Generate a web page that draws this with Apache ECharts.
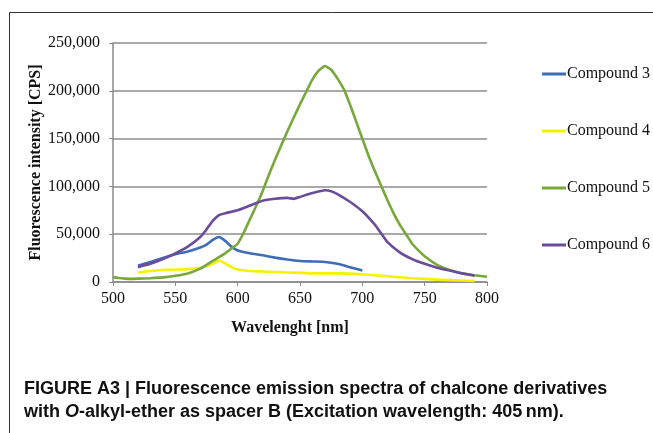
<!DOCTYPE html>
<html>
<head>
<meta charset="utf-8">
<script src="https://cdn.jsdelivr.net/npm/echarts@6/dist/echarts.min.js"></script>
<style>
body { margin: 0; background: #fff; }
#chart { width: 653px; height: 433px; }
</style>
</head>
<body>
<div id="chart"></div>
<script>
// Spectra (wavelength nm / intensity CPS)
var wl3 = [520, 530, 540, 550, 560, 570, 575, 580, 585, 590, 595, 600, 610, 620, 630, 640, 650, 660, 670, 680, 690, 700];
var c3 = [17000, 21000, 25000, 29000, 32000, 36000, 39000, 44000, 47000, 43000, 37000, 33000, 30000, 28000, 25500, 23500, 22000, 21500, 21000, 19000, 15500, 12000];

var wl4 = [520, 530, 540, 550, 560, 570, 575, 580, 585, 590, 595, 600, 610, 620, 640, 660, 680, 700, 720, 740, 760, 780, 790];
var c4 = [10000, 11500, 12500, 13000, 13500, 15000, 16500, 19000, 22500, 19500, 15500, 13000, 11500, 11000, 10000, 9000, 9000, 8000, 6000, 4000, 2500, 1500, 1000];

var wl5 = [500, 505, 510, 515, 520, 530, 540, 550, 560, 570, 575, 580, 585, 590, 595, 600, 605, 610, 615, 620, 625, 630, 635, 640, 645, 650, 655, 660, 665, 670, 675, 680, 685, 690, 695, 700, 705, 710, 715, 720, 725, 730, 735, 740, 745, 750, 760, 770, 780, 790, 800];
var c5 = [5000, 4200, 3500, 3300, 3500, 4000, 4800, 6500, 9000, 14000, 18000, 22000, 26000, 30000, 35000, 40000, 52000, 66000, 80000, 95000, 112000, 128000, 143000, 158000, 172000, 186000, 199000, 212000, 221000, 226000, 222000, 213000, 202000, 186000, 168000, 150000, 132000, 116000, 101000, 86000, 72000, 60000, 50000, 40000, 33000, 27000, 18000, 12500, 9000, 7000, 5500];

var wl6 = [520, 530, 540, 550, 560, 570, 575, 580, 585, 590, 600, 610, 620, 630, 640, 645, 650, 660, 670, 675, 680, 690, 700, 710, 715, 720, 730, 740, 750, 760, 770, 780, 790];
var c6 = [15500, 19000, 24000, 30000, 37000, 47000, 55000, 64000, 70000, 72000, 75000, 80000, 85000, 87000, 88000, 87000, 89000, 93000, 96000, 95000, 92000, 84000, 74000, 60000, 51000, 42000, 31000, 24000, 19000, 15000, 12000, 9000, 6500];

var names = ['Compound 3', 'Compound 4', 'Compound 5', 'Compound 6'];
var colors = ['#3e6db5', '#f5f200', '#76a83a', '#6b4c9a'];

function pairs(xs, ys) {
	return xs.map(function(x, i) { return [x, ys[i]]; });
}

var serif = '"Liberation Serif", "Times New Roman", serif';
var sans = '"Liberation Sans", Arial, sans-serif';

var chart = echarts.init(document.getElementById('chart'), null, { renderer: 'canvas' });

var option = {
	backgroundColor: '#fff',
	animation: false,
	grid: { left: 113, right: 166, top: 43, bottom: 151 },
	legend: {
		orient: 'vertical',
		left: 537,
		top: 61,
		itemGap: 41,
		itemWidth: 24,
		itemHeight: 3,
		icon: 'rect',
		textStyle: { fontFamily: serif, fontSize: 16, color: '#111', padding: [0, 0, 0, -4], lineHeight: 16 },
		data: names
	},
	xAxis: {
		type: 'value',
		min: 500,
		max: 800,
		interval: 50,
		name: 'Wavelenght [nm]',
		nameLocation: 'middle',
		nameGap: 38,
		nameTextStyle: { fontFamily: serif, fontSize: 16, fontWeight: 'bold', color: '#111', padding: [0, 20, 0, 0] },
		axisLine: { lineStyle: { color: '#8a8a8a', width: 1.5 } },
		axisTick: { show: true, length: 4, lineStyle: { color: '#8a8a8a' } },
		axisLabel: { fontFamily: serif, fontSize: 16, color: '#111', margin: 9 },
		splitLine: { show: false }
	},
	yAxis: {
		type: 'value',
		min: 0,
		max: 250000,
		interval: 50000,
		name: 'Fluorescence intensity [CPS]',
		nameLocation: 'middle',
		nameGap: 69,
		nameMoveOverlap: false,
		nameTextStyle: { fontFamily: serif, fontSize: 16, fontWeight: 'bold', color: '#111' },
		axisLine: { show: true, lineStyle: { color: '#8a8a8a', width: 1.5 } },
		axisTick: { show: true, length: 4, lineStyle: { color: '#8a8a8a' } },
		axisLabel: {
			fontFamily: serif, fontSize: 16, color: '#111', margin: 13,
			formatter: function(v) { return v.toLocaleString('en-US'); }
		},
		splitLine: { lineStyle: { color: '#8c8c8c', width: 1.5 } }
	},
	series: [
		{ name: names[0], type: 'line', data: pairs(wl3, c3) },
		{ name: names[1], type: 'line', data: pairs(wl4, c4) },
		{ name: names[2], type: 'line', data: pairs(wl5, c5) },
		{ name: names[3], type: 'line', data: pairs(wl6, c6) }
	].map(function(s, i) {
		s.symbol = 'none';
		s.smooth = 0.15;
		s.color = colors[i];
		s.lineStyle = { color: colors[i], width: 2.6 };
		return s;
	}),
	graphic: [
		{
			type: 'polyline',
			shape: { points: [[9.5, 433], [9.5, 12.5], [653, 12.5]] },
			style: { stroke: '#333', lineWidth: 1, fill: null }
		},
		{
			type: 'text',
			left: 24,
			top: 380,
			style: {
				text: '{b|FIGURE A3 | Fluorescence emission spectra of chalcone derivatives}\n' +
					'{b|with }{i|O}{b|-alkyl-ether as spacer B (Excitation wavelength: 405\u2009nm).}',
				rich: {
					b: { fontFamily: sans, fontWeight: 'bold', fontSize: 18, lineHeight: 23, fill: '#111' },
					i: { fontFamily: sans, fontWeight: 'bold', fontStyle: 'italic', fontSize: 18, lineHeight: 23, fill: '#111' }
				}
			}
		}
	]
};

chart.setOption(option);
</script>
</body>
</html>
